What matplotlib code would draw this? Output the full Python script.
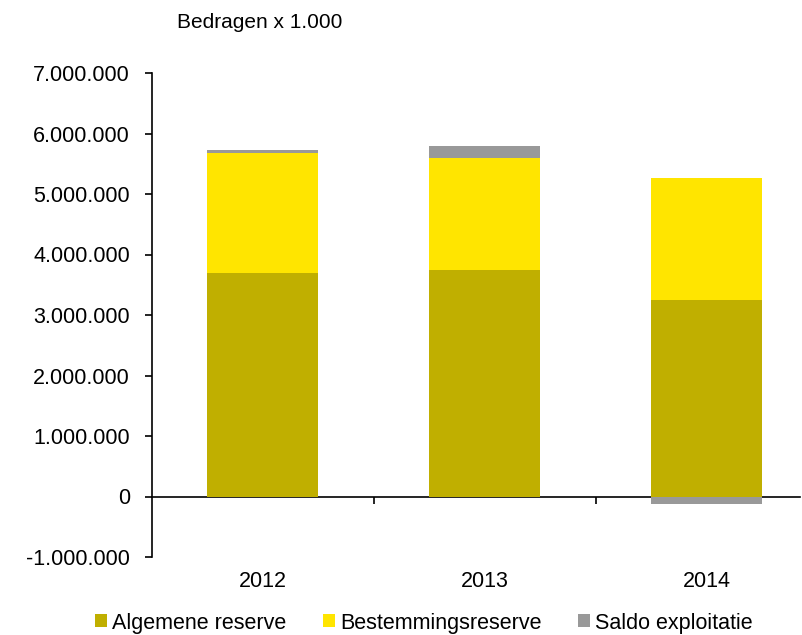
import matplotlib.pyplot as plt
import numpy as np
from matplotlib.ticker import FuncFormatter

plt.rcParams['font.family'] = ['Liberation Sans', 'DejaVu Sans']

years = ['2012', '2013', '2014']
algemene = [3690000, 3740000, 3240000]
bestemming = [1990000, 1850000, 2020000]
saldo = [50000, 200000, -130000]

c_alg = '#C0AF00'
c_best = '#FFE500'
c_saldo = '#999999'

fig = plt.figure(figsize=(8.03, 6.35), dpi=100)
ax = fig.add_axes([152 / 803, 78 / 635, (800 - 152) / 803, (557 - 73) / 635])

x = np.arange(len(years))
alg = np.array(algemene)
best = np.array(bestemming)
sal = np.array(saldo)
w = 0.5
ax.bar(x, alg, w, color=c_alg, label='Algemene reserve')
ax.bar(x, best, w, bottom=alg, color=c_best, label='Bestemmingsreserve')
# positive saldo on top of the stack, negative below zero
sal_bottom = np.where(sal >= 0, alg + best, 0)
ax.bar(x, sal, w, bottom=sal_bottom, color=c_saldo, label='Saldo exploitatie')

ax.set_ylim(-1000000, 7000000)
ax.set_xlim(-0.5, (800 - 152) / 222 - 0.5)
ax.set_yticks(np.arange(-1000000, 7000001, 1000000))
ax.yaxis.set_major_formatter(FuncFormatter(lambda v, p: f'{int(v):,}'.replace(',', '.')))
ax.tick_params(axis='y', length=5, width=1.2, labelsize=15.5, pad=11)

for s in ['top', 'right', 'bottom']:
    ax.spines[s].set_visible(False)
ax.spines['left'].set_linewidth(1.2)

ax.set_xticks(x)
ax.set_xticklabels(years)
ax.tick_params(axis='x', length=0, labelsize=15.5, pad=10)

# category axis drawn through zero with boundary ticks
sec = ax.secondary_xaxis(1 / 8)
sec.set_xticks([0.5, 1.5])
sec.set_xticklabels([])
sec.tick_params(axis='x', length=5, width=1.2, direction='out')
sec.spines['bottom'].set_linewidth(1.2)

fig.text(177 / 803, 1 - 22 / 635, 'Bedragen x 1.000', fontsize=15, va='center')

fig.legend(loc='center', bbox_to_anchor=(0.528, 1 - 623 / 635), ncol=3, frameon=False,
           fontsize=15.5, handlelength=0.55, handleheight=0.55, handletextpad=0.25,
           columnspacing=1.7, borderpad=0, borderaxespad=0)

fig.savefig('out.png', dpi=100)
